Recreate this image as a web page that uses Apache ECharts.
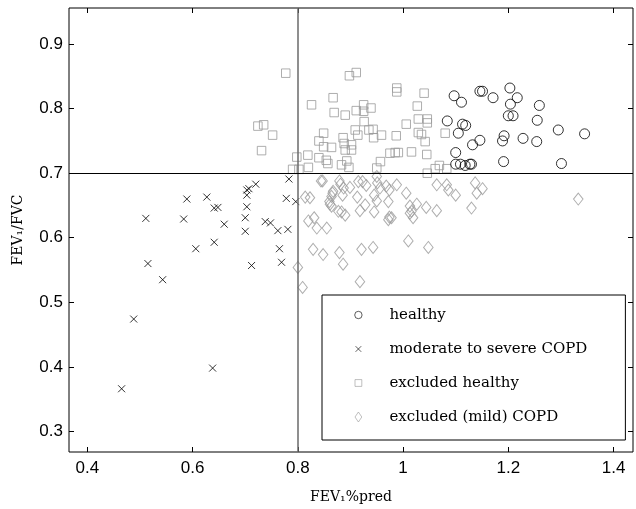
<!DOCTYPE html>
<html>
<head>
<meta charset="utf-8">
<script src="https://cdn.jsdelivr.net/npm/echarts@6/dist/echarts.min.js"></script>
<style>html,body{margin:0;padding:0;background:#fff;}#c{width:636px;height:509px;}</style>
</head>
<body>
<div id="c"></div>
<script>
const xTicks = [0.4, 0.6, 0.8, 1.0, 1.2, 1.4];
const yTicks = [0.3, 0.4, 0.5, 0.6, 0.7, 0.8, 0.9];
const seriesNames = ['healthy', 'moderate to severe COPD', 'excluded healthy', 'excluded (mild) COPD'];

const healthy = [[1.097,0.820],[1.111,0.810],[1.146,0.827],[1.151,0.827],[1.171,0.817],[1.203,0.832],[1.217,0.817],[1.204,0.807],[1.259,0.805],[1.084,0.781],[1.113,0.776],[1.119,0.774],[1.200,0.789],[1.209,0.789],[1.255,0.782],[1.105,0.762],[1.146,0.751],[1.132,0.744],[1.192,0.758],[1.189,0.750],[1.228,0.754],[1.254,0.749],[1.295,0.767],[1.345,0.761],[1.100,0.732],[1.100,0.714],[1.109,0.714],[1.118,0.712],[1.127,0.714],[1.130,0.714],[1.191,0.718],[1.301,0.715]];

const copd = [[0.783,0.691],[0.720,0.683],[0.703,0.674],[0.707,0.676],[0.703,0.666],[0.589,0.660],[0.627,0.663],[0.641,0.646],[0.648,0.647],[0.703,0.648],[0.778,0.661],[0.796,0.656],[0.511,0.630],[0.583,0.629],[0.700,0.631],[0.660,0.621],[0.738,0.625],[0.748,0.623],[0.700,0.610],[0.762,0.611],[0.781,0.613],[0.606,0.583],[0.641,0.593],[0.765,0.583],[0.515,0.560],[0.712,0.557],[0.769,0.562],[0.543,0.535],[0.488,0.474],[0.638,0.398],[0.465,0.366]];

const exclHealthy = [[0.777,0.855],[0.724,0.773],[0.735,0.775],[0.752,0.759],[0.731,0.735],[0.826,0.806],[0.867,0.817],[0.869,0.794],[0.890,0.790],[0.911,0.797],[0.849,0.762],[0.840,0.750],[0.849,0.741],[0.864,0.740],[0.886,0.755],[0.888,0.746],[0.902,0.744],[0.909,0.767],[0.798,0.725],[0.819,0.728],[0.840,0.724],[0.854,0.720],[0.857,0.715],[0.883,0.713],[0.893,0.719],[0.897,0.709],[0.820,0.709],[0.790,0.706],[0.802,0.706],[0.898,0.851],[0.911,0.856],[0.925,0.806],[0.925,0.796],[0.939,0.801],[0.926,0.780],[0.935,0.767],[0.943,0.768],[0.914,0.759],[0.944,0.755],[0.959,0.759],[0.987,0.758],[0.988,0.832],[0.988,0.826],[1.040,0.824],[1.027,0.804],[1.006,0.776],[1.029,0.784],[1.046,0.784],[1.046,0.778],[1.029,0.763],[1.035,0.760],[1.042,0.749],[1.080,0.762],[0.975,0.731],[0.985,0.732],[0.991,0.732],[1.016,0.733],[1.045,0.729],[0.957,0.718],[0.950,0.708],[1.046,0.700],[1.061,0.707],[1.069,0.712],[1.083,0.707],[0.902,0.736],[0.890,0.736]];

const exclCopd = [[0.847,0.688],[0.879,0.688],[0.881,0.683],[0.899,0.678],[0.923,0.687],[0.930,0.681],[0.950,0.695],[0.951,0.685],[0.956,0.677],[0.968,0.680],[0.974,0.674],[0.988,0.682],[1.006,0.669],[1.064,0.682],[1.083,0.682],[1.137,0.685],[1.151,0.676],[1.140,0.669],[1.100,0.666],[1.333,0.660],[0.814,0.663],[0.823,0.662],[0.866,0.669],[0.885,0.666],[0.913,0.663],[0.945,0.666],[0.950,0.657],[0.972,0.656],[1.013,0.649],[1.026,0.652],[1.044,0.647],[1.064,0.642],[1.130,0.646],[0.861,0.652],[0.864,0.649],[0.883,0.640],[0.890,0.635],[0.918,0.642],[0.928,0.651],[0.945,0.640],[0.974,0.632],[0.972,0.628],[1.013,0.638],[1.019,0.631],[0.820,0.626],[0.831,0.631],[0.836,0.615],[0.855,0.615],[0.829,0.582],[0.848,0.574],[0.879,0.577],[0.886,0.559],[0.921,0.582],[0.943,0.585],[1.010,0.595],[1.048,0.585],[0.918,0.532],[0.800,0.554],[0.809,0.523],[0.844,0.688],[0.887,0.677],[0.867,0.672],[0.864,0.664],[0.860,0.656],[0.877,0.641],[0.915,0.687],[1.016,0.641],[1.086,0.674],[0.978,0.631]];

const refX = 0.8;
const refY = 0.7;

const chart = echarts.init(document.getElementById('c'), null, {renderer: 'canvas'});
const fmt = v => String(+(+v).toFixed(2));
const tickFont = {fontFamily: 'Liberation Sans', fontSize: 17, color: '#000'};
const serif = 'DejaVu Serif';
const gray = '#9a9a9a';

function mkX(pos, show) {
  return {
    type: 'value', position: pos, min: 0.365, max: 1.437,
    axisLine: {show: false}, splitLine: {show: false},
    axisTick: {show: true, inside: true, length: 5, customValues: xTicks, lineStyle: {color: '#000'}},
    axisLabel: Object.assign({show: show, margin: 8, customValues: xTicks, formatter: fmt}, tickFont),
    name: show ? 'FEV\u2081%pred' : '', nameLocation: 'middle', nameGap: 38,
    nameTextStyle: {fontFamily: serif, fontSize: 14, color: '#000'}
  };
}
function mkY(pos, show) {
  return {
    type: 'value', position: pos, min: 0.268, max: 0.956,
    axisLine: {show: false}, splitLine: {show: false},
    axisTick: {show: true, inside: true, length: 5, customValues: yTicks, lineStyle: {color: '#000'}},
    axisLabel: Object.assign({show: show, margin: 6, customValues: yTicks, formatter: fmt}, tickFont),
    name: show ? 'FEV\u2081/FVC' : '', nameLocation: 'middle', nameGap: 44,
    nameTextStyle: {fontFamily: serif, fontSize: 14, color: '#000'}
  };
}

const crossPath = 'path://M0,0L10,10M10,0L0,10';
// legend icons: drawn inside a 12x12 box (the move-to corners fix the box)
const legCircle = 'path://M0,0M12,12M9.7,6A3.7,3.7,0,1,1,2.3,6A3.7,3.7,0,1,1,9.7,6Z';
const legCross = 'path://M0,0M12,12M3.2,3.2L8.8,8.8M8.8,3.2L3.2,8.8';
const legSquare = 'path://M0,0M12,12M2.6,2.6L9.4,2.6L9.4,9.4L2.6,9.4Z';
const legDiamond = 'path://M0,0M12,12M6,1L9.4,6L6,11L2.6,6Z';

chart.setOption({
  animation: false,
  backgroundColor: '#fff',
  grid: {left: 69, right: 3, top: 8, bottom: 53, show: true, borderColor: '#000', borderWidth: 1, backgroundColor: 'transparent'},
  xAxis: [mkX('bottom', true), mkX('top', false)],
  yAxis: [mkY('left', true), mkY('right', false)],
  legend: {
    orient: 'vertical', left: 322, top: 295,
    data: [
      {name: seriesNames[0], icon: legCircle, itemStyle: {borderWidth: 0.8}},
      {name: seriesNames[1], icon: legCross, itemStyle: {borderWidth: 0.8}},
      {name: seriesNames[2], icon: legSquare, itemStyle: {borderColor: gray, borderWidth: 0.8}},
      {name: seriesNames[3], icon: legDiamond, itemStyle: {borderColor: gray, borderWidth: 0.8}}
    ],
    itemWidth: 52, itemHeight: 12, itemGap: 14,
    padding: [10, 38, 13, 30],
    borderColor: '#000', borderWidth: 1, backgroundColor: '#fff',
    textStyle: {fontFamily: serif, fontSize: 15, lineHeight: 20, color: '#000'},
    selectedMode: false
  },
  series: [
    {
      type: 'scatter', name: '', data: [], silent: true,
      markLine: {
        silent: true, symbol: ['none', 'none'], label: {show: false},
        data: [
          {xAxis: refX, lineStyle: {color: '#6a6a6a', width: 1.5, type: 'solid'}},
          {yAxis: refY, lineStyle: {color: '#000', width: 1, type: 'solid'}}
        ]
      }
    },
    {
      type: 'scatter', name: seriesNames[2], data: exclHealthy, symbol: 'rect', symbolSize: 8.5,
      itemStyle: {color: 'transparent', borderColor: gray, borderWidth: 1}, emphasis: {disabled: true}
    },
    {
      type: 'scatter', name: seriesNames[3], data: exclCopd, symbol: 'diamond', symbolSize: [9.5, 12],
      itemStyle: {color: 'transparent', borderColor: gray, borderWidth: 1}, emphasis: {disabled: true}
    },
    {
      type: 'scatter', name: seriesNames[0], data: healthy, symbol: 'circle', symbolSize: 10,
      itemStyle: {color: 'transparent', borderColor: '#000', borderWidth: 1}, emphasis: {disabled: true}
    },
    {
      type: 'scatter', name: seriesNames[1], data: copd, symbol: crossPath, symbolSize: 7,
      itemStyle: {color: 'transparent', borderColor: '#000', borderWidth: 1}, emphasis: {disabled: true}
    }
  ]
});
</script>
</body>
</html>
